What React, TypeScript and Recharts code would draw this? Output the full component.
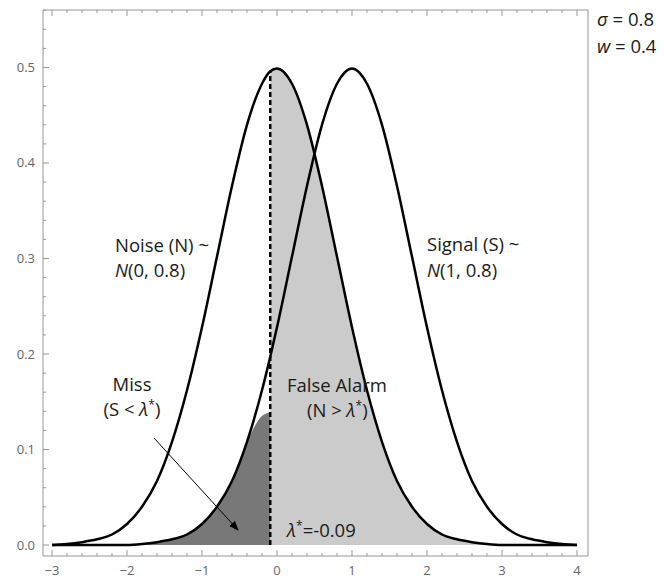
import React from "react";
import { ComposedChart, Area, Line, XAxis, YAxis, ReferenceLine } from "recharts";

const xValues = [
  -3, -2.8, -2.6, -2.4, -2.2, -2, -1.8, -1.6, -1.4, -1.2, -1, -0.8, -0.6, -0.4, -0.2, -0.09,
  0, 0.2, 0.4, 0.6, 0.8, 1, 1.2, 1.4, 1.6, 1.8, 2, 2.2, 2.4, 2.6, 2.8, 3, 3.2, 3.4, 3.6, 3.8, 4,
];

// Noise (N) ~ N(0, 0.8)
const noiseDensity = [
  0.0, 0.001, 0.003, 0.006, 0.011, 0.022, 0.04, 0.067, 0.108, 0.162, 0.228, 0.302, 0.376, 0.44, 0.483, 0.496,
  0.499, 0.483, 0.44, 0.376, 0.302, 0.228, 0.162, 0.108, 0.067, 0.04, 0.022, 0.011, 0.006, 0.003, 0.001, 0.0, 0.0, 0.0, 0.0, 0.0, 0.0,
];

// Signal (S) ~ N(1, 0.8)
const signalDensity = [
  0.0, 0.0, 0.0, 0.0, 0.0, 0.0, 0.001, 0.003, 0.006, 0.011, 0.022, 0.04, 0.067, 0.108, 0.162, 0.197,
  0.228, 0.302, 0.376, 0.44, 0.483, 0.499, 0.483, 0.44, 0.376, 0.302, 0.228, 0.162, 0.108, 0.067, 0.04, 0.022, 0.011, 0.006, 0.003, 0.001, 0.0,
];

// upper edge of the dark "Miss" region, x = -3 .. -0.09
const missEdge = [0.0, 0.0, 0.0, 0.0, 0.0, 0.0, 0.001, 0.003, 0.006, 0.011, 0.022, 0.04, 0.067, 0.108, 0.135, 0.139];

const threshold = -0.09;

const majorXTicks = [-3, -2, -1, 0, 1, 2, 3, 4];
const majorYTicks = [0, 0.1, 0.2, 0.3, 0.4, 0.5];

const data = xValues.map((x, i) => ({
  x,
  noise: noiseDensity[i],
  signal: signalDensity[i],
  miss: i < missEdge.length ? missEdge[i] : null,
  falseAlarm: x >= threshold ? noiseDensity[i] : null,
}));

// minor ticks: 4 between each x major, 4 between each y major
const xTicks: number[] = [];
majorXTicks.forEach((v, i) => {
  xTicks.push(v);
  if (i < majorXTicks.length - 1) for (let k = 1; k < 5; k++) xTicks.push(+(v + k * 0.2).toFixed(2));
});
const yTicks: number[] = [];
majorYTicks.forEach((v) => {
  for (let k = 0; k < 5; k++) yTicks.push(+(v + k * 0.02).toFixed(2));
});

const frame = "#999";
const tickFont = { fontFamily: "Open Sans", fontSize: 13, fill: "#666" };
const isMajorX = (v: number) => Math.abs(v - Math.round(v)) < 1e-6;
const isMajorY = (v: number) => Math.abs(v * 10 - Math.round(v * 10)) < 1e-6;
const fmt = (s: string) => s.replace("-", "\u2212");

const BottomTick = ({ x, y, payload }: any) => {
  const major = isMajorX(payload.value);
  return (
    <g>
      <line x1={x} x2={x} y1={y} y2={y - (major ? 6 : 3)} stroke={frame} />
      {major && (
        <text x={x} y={y + 19} textAnchor="middle" {...tickFont}>
          {fmt(String(payload.value))}
        </text>
      )}
    </g>
  );
};

const TopTick = ({ x, y, payload }: any) => (
  <line x1={x} x2={x} y1={y} y2={y + (isMajorX(payload.value) ? 6 : 3)} stroke={frame} />
);

const LeftTick = ({ x, y, payload }: any) => {
  const major = isMajorY(payload.value);
  return (
    <g>
      <line x1={x} x2={x + (major ? 6 : 3)} y1={y} y2={y} stroke={frame} />
      {major && (
        <text x={x - 8} y={y + 4.5} textAnchor="end" {...tickFont}>
          {payload.value.toFixed(1)}
        </text>
      )}
    </g>
  );
};

const RightTick = ({ x, y, payload }: any) => (
  <line x1={x} x2={x - (isMajorY(payload.value) ? 6 : 3)} y1={y} y2={y} stroke={frame} />
);

const label = { fontFamily: "Open Sans", fontSize: 18.5, fill: "#1a1a1a" };

export default function App() {
  return (
    <div style={{ position: "absolute", left: 0, top: 0, width: 669, height: 579, background: "#fff" }}>
      <ComposedChart width={669} height={579} data={data} margin={{ top: 9, right: 80, bottom: 0, left: 0 }}>
        <XAxis
          dataKey="x"
          type="number"
          domain={[-3.12, 4.147]}
          ticks={xTicks}
          interval={0}
          height={23}
          tickSize={0}
          tickMargin={0}
          axisLine={{ stroke: frame }}
          tickLine={false}
          tick={<BottomTick />}
        />
        <XAxis
          xAxisId="top"
          orientation="top"
          dataKey="x"
          type="number"
          domain={[-3.12, 4.147]}
          ticks={xTicks}
          interval={0}
          height={1}
          tickSize={0}
          tickMargin={0}
          axisLine={{ stroke: frame }}
          tickLine={false}
          tick={<TopTick />}
        />
        <YAxis
          type="number"
          domain={[-0.0115, 0.5602]}
          ticks={yTicks}
          interval={0}
          width={43}
          tickSize={0}
          tickMargin={0}
          axisLine={{ stroke: frame }}
          tickLine={false}
          tick={<LeftTick />}
        />
        <YAxis
          yAxisId="right"
          orientation="right"
          type="number"
          domain={[-0.0115, 0.5602]}
          ticks={yTicks}
          interval={0}
          width={1}
          tickSize={0}
          tickMargin={0}
          axisLine={{ stroke: frame }}
          tickLine={false}
          tick={<RightTick />}
        />
        <Area dataKey="falseAlarm" type="monotone" fill="#cbcbcb" fillOpacity={1} stroke="none" isAnimationActive={false} />
        <Area dataKey="miss" type="monotone" fill="#787878" fillOpacity={1} stroke="none" isAnimationActive={false} />
        <ReferenceLine
          segment={[
            { x: threshold, y: 0 },
            { x: threshold, y: noiseDensity[xValues.indexOf(threshold)] },
          ]}
          stroke="#000"
          strokeWidth={2.5}
          strokeDasharray="5 3"
        />
        <Line dataKey="noise" type="monotone" stroke="#000" strokeWidth={2.5} dot={false} isAnimationActive={false} />
        <Line dataKey="signal" type="monotone" stroke="#000" strokeWidth={2.5} dot={false} isAnimationActive={false} />
      </ComposedChart>
      <svg width={669} height={579} style={{ position: "absolute", left: 0, top: 0, pointerEvents: "none" }}>
        <defs>
          <marker id="arrowHead" markerWidth="10" markerHeight="8" refX="9" refY="4" orient="auto" markerUnits="userSpaceOnUse">
            <path d="M0,0 L10,4 L0,8 z" fill="#000" />
          </marker>
        </defs>
        <line x1={154} y1={438} x2={238} y2={530} stroke="#000" strokeWidth={1} markerEnd="url(#arrowHead)" />
        <text x={115} y={252} {...label}>Noise (N) ~</text>
        <text x={115} y={277} {...label}>
          <tspan fontStyle="italic">N</tspan>(0, 0.8)
        </text>
        <text x={427} y={251} {...label}>Signal (S) ~</text>
        <text x={427} y={277} {...label}>
          <tspan fontStyle="italic">N</tspan>(1, 0.8)
        </text>
        <text x={597} y={26} {...label}>
          <tspan fontStyle="italic">σ</tspan> = 0.8
        </text>
        <text x={597} y={53} {...label}>
          <tspan fontStyle="italic">w</tspan> = 0.4
        </text>
        <text x={132} y={391} textAnchor="middle" {...label}>Miss</text>
        <text x={132} y={416} textAnchor="middle" {...label}>
          (S &lt; <tspan fontStyle="italic">λ</tspan>
          <tspan dy={-7} fontSize={12}>*</tspan>
          <tspan dy={7}>)</tspan>
        </text>
        <text x={287} y={392} {...label}>False Alarm</text>
        <text x={307} y={417} {...label}>
          (N &gt; <tspan fontStyle="italic">λ</tspan>
          <tspan dy={-7} fontSize={12}>*</tspan>
          <tspan dy={7}>)</tspan>
        </text>
        <text x={287} y={537} {...label}>
          <tspan fontStyle="italic">λ</tspan>
          <tspan dy={-7} fontSize={12}>*</tspan>
          <tspan dy={7}>=-0.09</tspan>
        </text>
      </svg>
    </div>
  );
}
